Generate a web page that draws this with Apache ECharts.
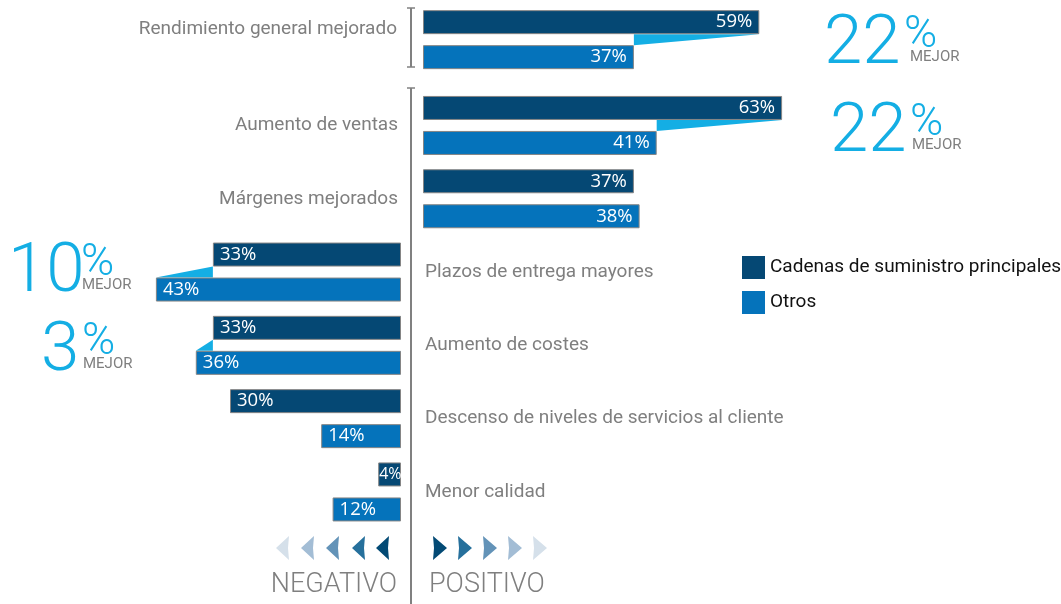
<!DOCTYPE html>
<html><head><meta charset="utf-8">
<script src="https://cdn.jsdelivr.net/npm/echarts@6/dist/echarts.min.js"></script>
<style>html,body{margin:0;padding:0;background:#fff}#c{width:1061px;height:604px}</style>
</head><body><div id="c"></div>
<script>
// ---- data ----
const categoriesTop = ['Rendimiento general mejorado'];
const principalesTop = [59];
const otrosTop = [37];
const mejorTop = [22];

const categories = ['Aumento de ventas', 'Márgenes mejorados', 'Plazos de entrega mayores', 'Aumento de costes', 'Descenso de niveles de servicios al cliente', 'Menor calidad'];
const lado = ['positivo', 'positivo', 'negativo', 'negativo', 'negativo', 'negativo'];
const principales = [63, 37, 33, 33, 30, 4];
const otros = [41, 38, 43, 36, 14, 12];
const mejor = [22, null, 10, 3, null, null];

const seriesNames = ['Cadenas de suministro principales', 'Otros'];
const mejorLabel = 'MEJOR';
const ladoLabels = ['NEGATIVO', 'POSITIVO'];

// ---- style ----
const DARK = '#054874', LIGHT = '#0573bb', CYAN = '#14aee4', GREY = '#7f7f7f';
const BAR_W = 24, GAP = 11;
const XMAX = 70, SCALE_W = 399;
const FONT = 'Roboto';

const chart = echarts.init(document.getElementById('c'));

function pick(arr, side) {
  return arr.map((v, i) => {
    if (lado[i] !== side) return '-';
    if (v < 8) return { value: v, label: { distance: 1, fontSize: 16 } };
    return v;
  });
}

function wedge(params, api) {
  const idx = api.value(0);
  const p = api.coord([api.value(1), idx]);
  const o = api.coord([api.value(2), idx]);
  const x0 = api.coord([0, idx])[0];
  const yc = p[1];
  const yD = yc - GAP / 2, yL = yc + GAP / 2;
  let third;
  if (Math.abs(p[0] - x0) < Math.abs(o[0] - x0)) third = [p[0], yL];
  else third = [o[0], yD];
  return { type: 'polygon', shape: { points: [[p[0], yD], [o[0], yL], third] }, style: { fill: CYAN } };
}

const barLabel = (pos) => ({ show: true, position: pos, distance: 7, color: '#fff', fontSize: 18.5, fontFamily: 'Open Sans', formatter: '{c}%' });
const barStyle = (c) => ({ color: c, borderColor: '#858585', borderWidth: 1 });

function wedgeData(p, o, m, side) {
  const d = [];
  for (let i = 0; i < p.length; i++) if (m[i] != null && (side == null || lado[i] === side)) d.push([i, p[i], o[i]]);
  return d;
}

const gTop = { left: 423, width: SCALE_W, top: 3, height: 73.3 };
const gPos = { left: 423, width: SCALE_W, top: 88.8, height: 439.8 };
const gNeg = { left: 401 - SCALE_W, width: SCALE_W, top: 88.8, height: 439.8 };

const yLabel = { color: GREY, fontSize: 19, fontFamily: FONT };

// annotations (big numbers)
function bigNum(num, xNum, yMid, xPct, xMej) {
  return [
    { type: 'text', left: xNum, top: yMid - 29, style: { text: String(num), fill: CYAN, font: '300 69px ' + FONT } },
    { type: 'text', left: xPct, top: yMid - 27, style: { text: '%', fill: CYAN, font: '300 45px ' + FONT } },
    { type: 'text', left: xMej, top: yMid + 10, style: { text: mejorLabel, fill: GREY, font: '15px ' + FONT } }
  ];
}

const graphics = [];
// center axis line + caps
graphics.push({ type: 'line', shape: { x1: 411, y1: 88, x2: 411, y2: 604 }, style: { stroke: '#808080', lineWidth: 2 } });
graphics.push({ type: 'line', shape: { x1: 407, y1: 88, x2: 415, y2: 88 }, style: { stroke: '#808080', lineWidth: 1.5 } });
graphics.push({ type: 'line', shape: { x1: 411, y1: 8, x2: 411, y2: 67 }, style: { stroke: '#808080', lineWidth: 2 } });
graphics.push({ type: 'line', shape: { x1: 407, y1: 8, x2: 415, y2: 8 }, style: { stroke: '#808080', lineWidth: 1.5 } });
graphics.push({ type: 'line', shape: { x1: 407, y1: 67, x2: 415, y2: 67 }, style: { stroke: '#808080', lineWidth: 1.5 } });

graphics.push(...bigNum(mejorTop[0], 824, 40, 904, 910));
graphics.push(...bigNum(mejor[0], 830, 128, 910, 912));
graphics.push(...bigNum(mejor[2], 8, 268, 81, 82));
graphics.push(...bigNum(mejor[3], 41, 347, 82, 83));

// chevrons
const chevCols = ['#d5e0ea', '#a3bdd5', '#6393b8', '#26709c', '#034a75'];
const leftX = [276, 301, 326, 352, 376];
const rightX = [433, 458, 483, 508, 533];
leftX.forEach((x, i) => graphics.push({ type: 'polygon', shape: { points: [[x, 548], [x + 13, 536], [x + 12, 548], [x + 13, 560]] }, style: { fill: chevCols[i] } }));
rightX.forEach((x, i) => graphics.push({ type: 'polygon', shape: { points: [[x + 14, 548], [x, 536], [x + 1, 548], [x, 560]] }, style: { fill: chevCols[4 - i] } }));
graphics.push({ type: 'text', right: 1061 - 397, top: 572, style: { text: ladoLabels[0], fill: GREY, font: '300 27px ' + FONT } });
graphics.push({ type: 'text', left: 429, top: 572, style: { text: ladoLabels[1], fill: GREY, font: '300 27px ' + FONT } });

chart.setOption({
  animation: false,
  legend: {
    data: seriesNames, orient: 'vertical', left: 742, top: 256, itemWidth: 23, itemHeight: 23, itemGap: 12,
    icon: 'rect', itemStyle: { borderWidth: 0 }, textStyle: { fontSize: 19, color: '#111', fontFamily: FONT }, padding: 0, selectedMode: false
  },
  grid: [gTop, gPos, gNeg],
  xAxis: [
    { gridIndex: 0, type: 'value', min: 0, max: XMAX, show: false },
    { gridIndex: 1, type: 'value', min: 0, max: XMAX, show: false },
    { gridIndex: 2, type: 'value', min: 0, max: XMAX, show: false, inverse: true }
  ],
  yAxis: [
    { gridIndex: 0, type: 'category', data: categoriesTop, inverse: true, axisLine: { show: false }, axisTick: { show: false },
      axisLabel: Object.assign({ margin: 26, verticalAlign: 'bottom', lineHeight: 20 }, yLabel) },
    { gridIndex: 1, type: 'category', data: categories, inverse: true, axisLine: { show: false }, axisTick: { show: false },
      axisLabel: Object.assign({ margin: 25, formatter: (v, i) => lado[i] === 'positivo' ? v : '' }, yLabel) },
    { gridIndex: 2, type: 'category', data: categories, inverse: true, position: 'right', axisLine: { show: false }, axisTick: { show: false },
      axisLabel: Object.assign({ margin: 24, formatter: (v, i) => lado[i] === 'negativo' ? v : '' }, yLabel) }
  ],
  series: [
    { type: 'custom', xAxisIndex: 0, yAxisIndex: 0, renderItem: wedge, data: wedgeData(principalesTop, otrosTop, mejorTop), encode: { x: [1, 2], y: 0 }, z: 1, silent: true },
    { type: 'custom', xAxisIndex: 1, yAxisIndex: 1, renderItem: wedge, data: wedgeData(principales, otros, mejor, 'positivo'), encode: { x: [1, 2], y: 0 }, z: 1, silent: true },
    { type: 'custom', xAxisIndex: 2, yAxisIndex: 2, renderItem: wedge, data: wedgeData(principales, otros, mejor, 'negativo'), encode: { x: [1, 2], y: 0 }, z: 1, silent: true },

    { name: seriesNames[0], type: 'bar', xAxisIndex: 0, yAxisIndex: 0, data: principalesTop, barWidth: BAR_W, barGap: (GAP / BAR_W * 100) + '%', itemStyle: barStyle(DARK), label: barLabel('insideRight'), z: 2 },
    { name: seriesNames[1], type: 'bar', xAxisIndex: 0, yAxisIndex: 0, data: otrosTop, barWidth: BAR_W, barGap: (GAP / BAR_W * 100) + '%', itemStyle: barStyle(LIGHT), label: barLabel('insideRight'), z: 2 },
    { name: seriesNames[0], type: 'bar', xAxisIndex: 1, yAxisIndex: 1, data: pick(principales, 'positivo'), barWidth: BAR_W, barGap: (GAP / BAR_W * 100) + '%', itemStyle: barStyle(DARK), label: barLabel('insideRight'), z: 2 },
    { name: seriesNames[1], type: 'bar', xAxisIndex: 1, yAxisIndex: 1, data: pick(otros, 'positivo'), barWidth: BAR_W, barGap: (GAP / BAR_W * 100) + '%', itemStyle: barStyle(LIGHT), label: barLabel('insideRight'), z: 2 },
    { name: seriesNames[0], type: 'bar', xAxisIndex: 2, yAxisIndex: 2, data: pick(principales, 'negativo'), barWidth: BAR_W, barGap: (GAP / BAR_W * 100) + '%', itemStyle: barStyle(DARK), label: barLabel('insideLeft'), z: 2 },
    { name: seriesNames[1], type: 'bar', xAxisIndex: 2, yAxisIndex: 2, data: pick(otros, 'negativo'), barWidth: BAR_W, barGap: (GAP / BAR_W * 100) + '%', itemStyle: barStyle(LIGHT), label: barLabel('insideLeft'), z: 2 }
  ],
  graphic: graphics
});
</script></body></html>
